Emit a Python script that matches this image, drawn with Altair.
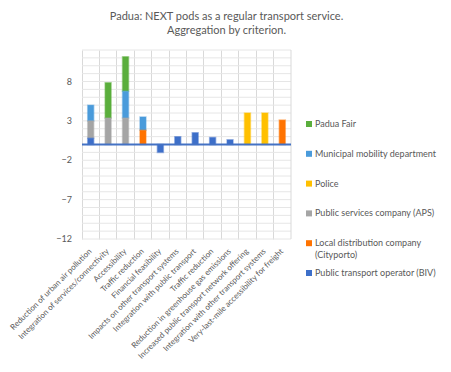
import altair as alt
import pandas as pd

categories = [
    "Reduction of urban air pollution",
    "Integration of services/connectivity",
    "Accessibility",
    "Traffic reduction",
    "Financial feasibility",
    "Impacts on other transport systems",
    "Integration with public transport",
    "Traffic reduction ",
    "Reduction in greenhouse gas emissions",
    "Increased public transport network offering",
    "Integration with other transport systems",
    "Very-last-mile accessibility for freight",
]
series = [
    "Padua Fair",
    "Municipal mobility department",
    "Police",
    "Public services company (APS)",
    "Local distribution company (Cityporto)",
    "Public transport operator (BIV)",
]
legend_labels = [
    "Padua Fair",
    "Municipal mobility department",
    "Police",
    "Public services company (APS)",
    "Local distribution company\n(Cityporto)",
    "Public transport operator (BIV)",
]
colors = ["#5AAE3C", "#4A9BDB", "#FFC000", "#A5A5A5", "#FF7300", "#3D6FC9"]
stack_rank = [5, 4, 3, 2, 1, 0]

padua = [0, 4.5, 4.4, 0, 0, 0, 0, 0, 0, 0, 0, 0]
municipal = [2.0, 0, 3.4, 1.7, 0, 0, 0, 0, 0, 0, 0, 0]
police = [0, 0, 0, 0, 0, 0, 0, 0, 0, 4.0, 4.0, 0]
aps = [2.2, 3.35, 3.35, 0, 0, 0, 0, 0, 0, 0, 0, 0]
cityporto = [0, 0, 0, 1.8, 0, 0, 0, 0, 0, 0, 0, 3.1]
biv = [0.8, 0, 0, 0, -1.0, 1.0, 1.5, 0.9, 0.6, 0, 0, 0]

y_tick_labels = [-12, -7, -2, 3, 8]
y_grid_values = list(range(-12, 13))

values = [padua, municipal, police, aps, cityporto, biv]
rows = []
for s, vals, r in zip(series, values, stack_rank):
    for c, v in zip(categories, vals):
        if v != 0:
            rows.append({"category": c, "series": s, "value": v, "rank": r})
df = pd.DataFrame(rows)
leg_df = pd.DataFrame({"series": series, "label": legend_labels})

FONT = "Lato"
TXT = "#595959"
W, H = 209, 189

color_scale = alt.Scale(domain=series, range=colors)
y_scale = alt.Scale(domain=[-12, 12], nice=False)
leg_scale = alt.Scale(domain=series, range=[74, 223], padding=0)

grid = alt.Chart(pd.DataFrame({"g": y_grid_values})).mark_rule(
    color="#E6E6E6", strokeWidth=1
).encode(y=alt.Y("g:Q", scale=y_scale, axis=None))

ylabels = alt.Chart(pd.DataFrame({"v": y_tick_labels})).mark_text(
    align="right", baseline="middle", font=FONT, fontSize=9, color=TXT, dx=-10
).encode(
    x=alt.value(0),
    y=alt.Y("v:Q", scale=y_scale, axis=None),
    text=alt.Text("v:Q"),
)

bars = alt.Chart(df).mark_bar(size=6, strokeWidth=1.5, strokeOpacity=0.45).encode(
    x=alt.X(
        "category:N",
        sort=categories,
        scale=alt.Scale(domain=categories, paddingInner=0, paddingOuter=0),
        axis=alt.Axis(
            title=None, labelAngle=-45, labelAlign="right", labelBaseline="middle",
            grid=True, bandPosition=0, ticks=False,
            domain=False, gridColor="#D9D9D9", labelFont=FONT, labelFontSize=8,
            labelColor=TXT, labelPadding=11, labelLimit=250,
        ),
    ),
    y=alt.Y("value:Q", stack="zero", scale=y_scale, axis=None),
    color=alt.Color("series:N", scale=color_scale, legend=None),
    stroke=alt.Color("series:N", scale=color_scale, legend=None),
    order=alt.Order("rank:Q"),
)

zero = alt.Chart(pd.DataFrame({"y": [0]})).mark_rule(color="#4472C4", strokeWidth=2).encode(
    y=alt.Y("y:Q", scale=y_scale, axis=None)
)
edge = alt.Chart(pd.DataFrame({"y": [0]})).mark_rule(color="#D9D9D9").encode(
    x=alt.value(W), y=alt.value(0), y2=alt.value(H)
)

main = alt.layer(grid, edge, ylabels, bars, zero)

leg_sym = alt.Chart(leg_df).mark_square(size=36, opacity=1).encode(
    x=alt.value(227),
    y=alt.Y("series:N", sort=series, scale=leg_scale, axis=None),
    color=alt.Color("series:N", scale=color_scale, legend=None),
)
leg_txt = alt.Chart(leg_df).mark_text(
    align="left", baseline="alphabetic", dy=3, font=FONT, fontSize=9, color=TXT,
    lineBreak="\n", lineHeight=11.5,
).encode(
    x=alt.value(233),
    y=alt.Y("series:N", sort=series, scale=leg_scale, axis=None),
    text="label:N",
)
legend = alt.layer(leg_sym, leg_txt)

chart = alt.layer(main, legend).resolve_scale(y="independent").properties(
    width=W,
    height=H,
    autosize=alt.AutoSizeParams(type="none"),
    padding={"left": 74, "top": 42, "right": 152, "bottom": 125},
    title=alt.TitleParams(
        ["Padua: NEXT pods as a regular transport service.", "Aggregation by criterion."],
        font=FONT, fontSize=11, fontWeight="normal", color=TXT,
        anchor="middle", dx=40, offset=14, lineHeight=13.5,
    ),
).configure_view(stroke=None)

chart.save("out.html", embed_options={"renderer": "svg", "actions": False})
